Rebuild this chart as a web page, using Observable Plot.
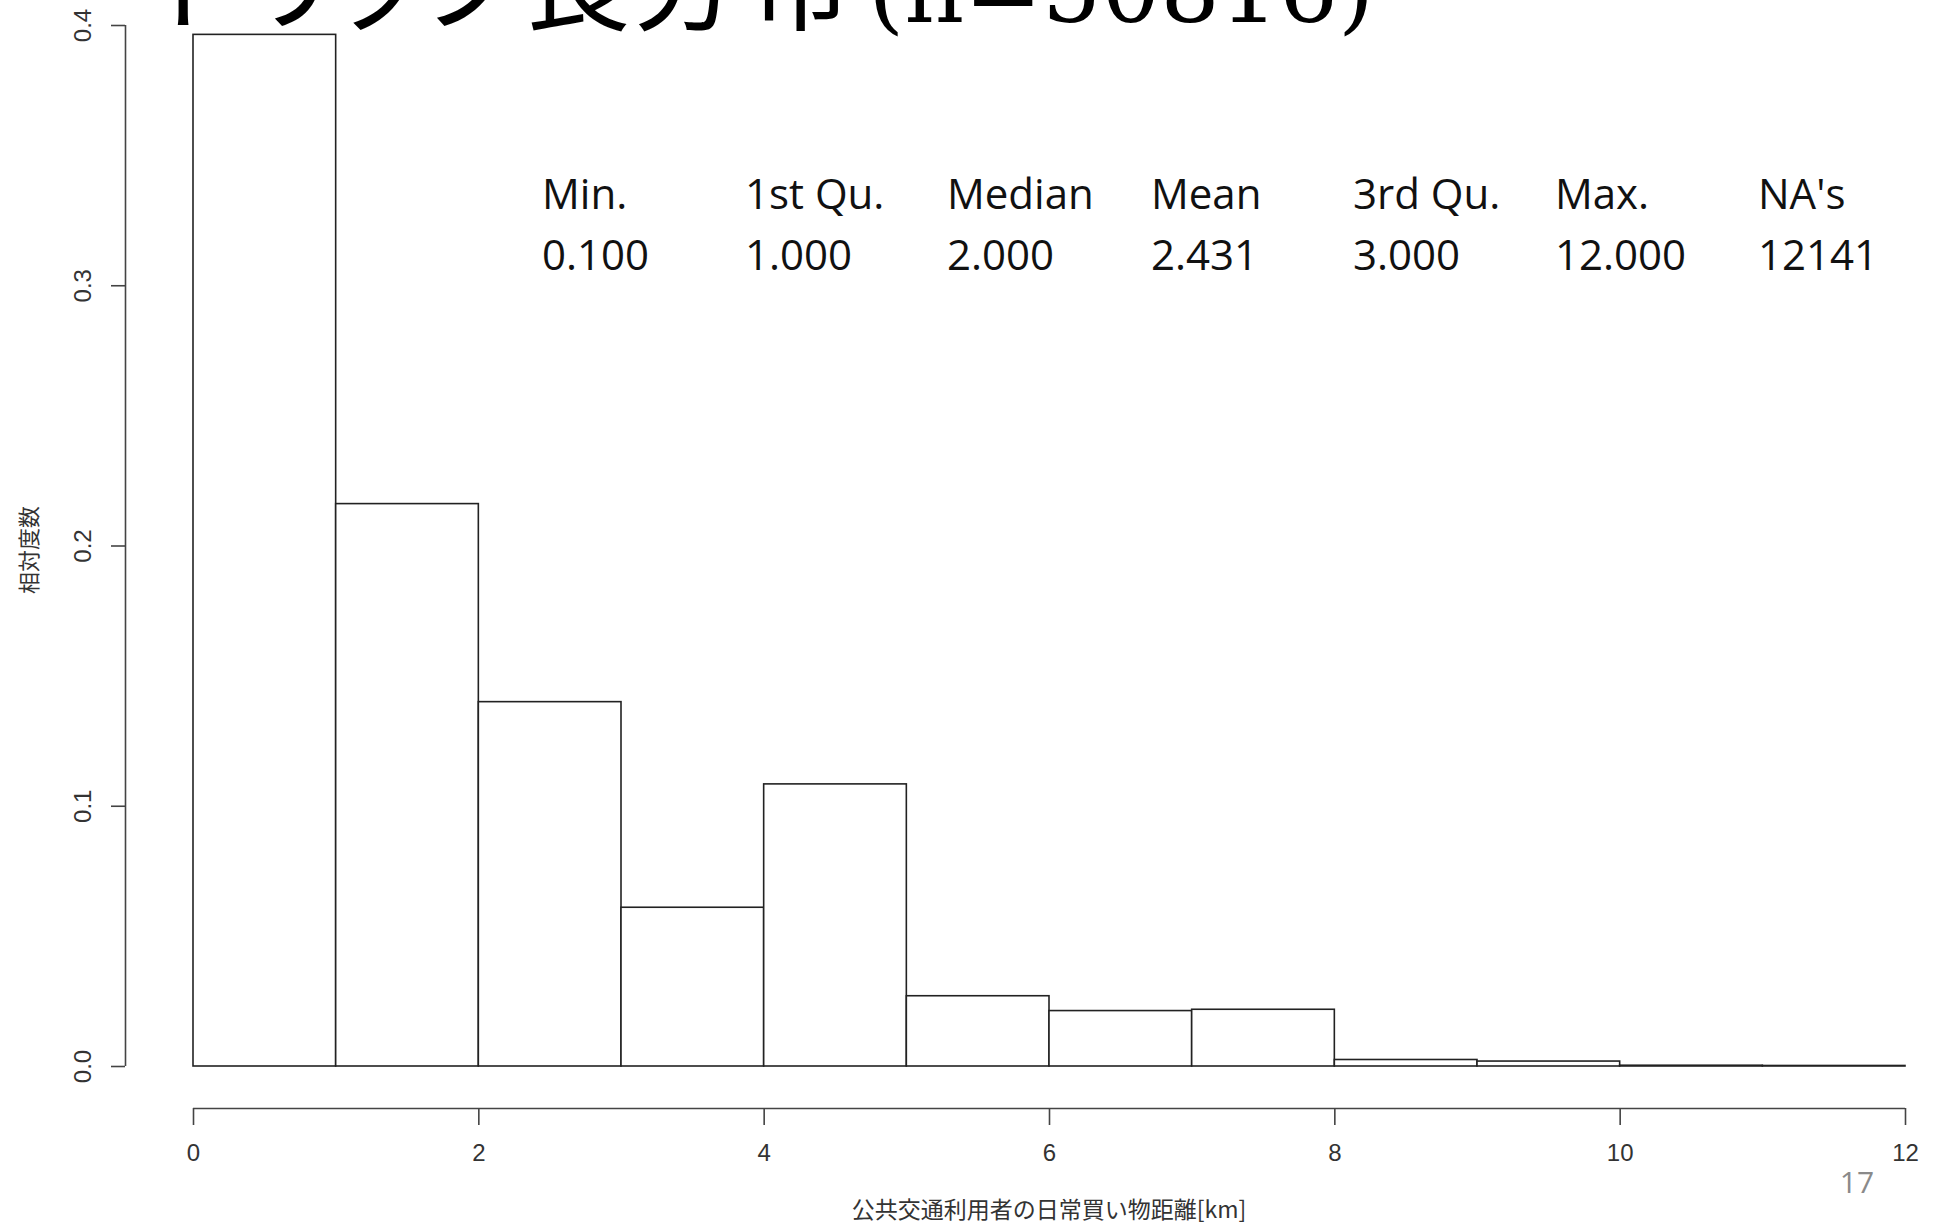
<!DOCTYPE html>
<html>
<head>
<meta charset="utf-8">
<script src="https://cdn.jsdelivr.net/npm/d3@7"></script>
<script src="https://cdn.jsdelivr.net/npm/@observablehq/plot@0.6"></script>
<style>
  html, body { margin: 0; padding: 0; background: #fff; }
  #page { position: relative; width: 1937px; height: 1223px; overflow: hidden; background: #fff; }
  #page > svg { position: absolute; left: 0; top: 0; }
  .abs { position: absolute; white-space: nowrap; line-height: 1; }
  #xtitle { font-family: "Noto Sans CJK JP", sans-serif; font-size: 23px; color: #333; transform: translate(-50%, -50%); }
  #ytitle { font-family: "Noto Sans CJK JP", sans-serif; font-size: 22px; color: #333; transform: translate(-50%, -50%) rotate(-90deg); }
  #pageno { font-family: "Open Sans", sans-serif; font-size: 30px; color: #8a8a8a; transform: translate(-50%, -50%); }
  .stat { font-family: "Open Sans", sans-serif; font-size: 42px; color: #111; line-height: 1.36; }
</style>
</head>
<body>
<div id="page"></div>
<script>
// Histogram of daily shopping distance for public-transport users (relative frequency per 1 km bin)
const binStart = [0, 1, 2, 3, 4, 5, 6, 7, 8, 9, 10, 11];
const binEnd   = [1, 2, 3, 4, 5, 6, 7, 8, 9, 10, 11, 12];
const relFreq  = [0.3964, 0.2161, 0.1400, 0.0610, 0.1084, 0.0270, 0.0213, 0.0218, 0.0025, 0.0019, 0.0003, 0.0002];

const xTicks = [0, 2, 4, 6, 8, 10, 12];
const yTicks = [0, 0.1, 0.2, 0.3, 0.4];

// Summary statistics printed over the plot
const statLabels = ["Min.", "1st Qu.", "Median", "Mean", "3rd Qu.", "Max.", "NA's"];
const statValues = ["0.100", "1.000", "2.000", "2.431", "3.000", "12.000", "12141"];

const titleJa = "トリップ長分布";
const titleN = "(n=50816)";
const xTitle = "公共交通利用者の日常買い物距離[km]";
const yTitle = "相対度数";
const pageNumber = "17";

const bins = binStart.map((b, i) => ({ x1: b, x2: binEnd[i], freq: relFreq[i] }));

const page = document.getElementById("page");

const chart = Plot.plot({
  width: 1937,
  height: 1223,
  marginLeft: 193,
  marginRight: 32,
  marginTop: 25,
  marginBottom: 157,
  x: { domain: [0, 12] },
  y: { domain: [0, 0.4] },
  style: { fontFamily: "'Liberation Sans', Arial, sans-serif", fontSize: "24px", color: "#333", background: "transparent", overflow: "visible" },
  marks: [
    Plot.rect(bins, { x1: "x1", x2: "x2", y1: 0, y2: "freq", fill: "white", stroke: "#222", strokeWidth: 1.6 }),
    // R-style detached axes
    Plot.ruleY([0], { x1: 0, x2: 12, dy: 42, stroke: "#444", strokeWidth: 1.6 }),
    Plot.axisX({ ticks: xTicks, tickFormat: d => String(d), dy: 42, tickSize: 17, tickPadding: 18, label: null, stroke: "#444", strokeWidth: 1.6, fill: "#333", fontSize: 24 }),
    Plot.ruleX([0], { y1: 0, y2: 0.4, dx: -68, stroke: "#444", strokeWidth: 1.6 }),
    Plot.axisY({ ticks: yTicks, tickFormat: d => d.toFixed(1), dx: -68, tickSize: 14, tickPadding: 21, tickRotate: -90, label: null, stroke: "#444", strokeWidth: 1.6, fill: "#333", fontSize: 24 })
  ]
});
page.appendChild(chart);

// Slide title (runs off the top edge of the slide)
const titleSvg = d3.select(page).append("svg")
  .attr("width", 1937).attr("height", 60)
  .style("position", "absolute").style("left", "0px").style("top", "0px");
const t = titleSvg.append("text").attr("y", 22).attr("fill", "#000");
t.append("tspan").attr("x", 158)
  .style("font-family", "'Noto Sans CJK JP', sans-serif")
  .style("font-size", "110px")
  .style("font-feature-settings", "'palt'")
  .text(titleJa);
t.append("tspan").attr("x", 868)
  .style("font-family", "'DejaVu Serif', serif")
  .style("font-size", "93px")
  .text(titleN);

// Summary table
const colX = [542, 745, 947, 1151, 1353, 1555, 1758];
statLabels.forEach((s, i) => {
  const d = document.createElement("div");
  d.className = "abs stat";
  d.style.left = colX[i] + "px";
  d.style.top = "164px";
  d.textContent = s;
  page.appendChild(d);
  const v = document.createElement("div");
  v.className = "abs stat";
  v.style.left = colX[i] + "px";
  v.style.top = "225px";
  v.textContent = statValues[i];
  page.appendChild(v);
});

function addText(id, x, y, txt) {
  const d = document.createElement("div");
  d.id = id;
  d.className = "abs";
  d.style.left = x + "px";
  d.style.top = y + "px";
  d.textContent = txt;
  page.appendChild(d);
}
addText("xtitle", 1049, 1208, xTitle);
addText("ytitle", 27, 550, yTitle);
addText("pageno", 1857, 1182, pageNumber);
</script>
</body>
</html>
